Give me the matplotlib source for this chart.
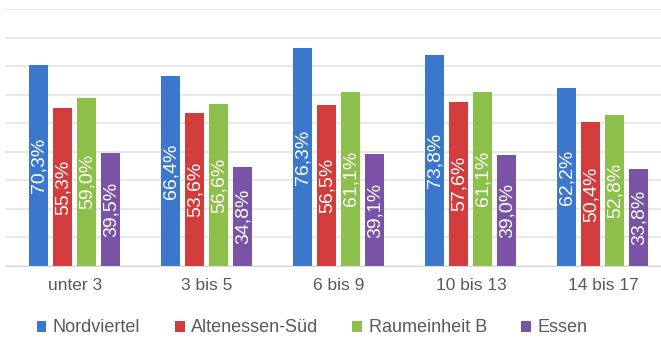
import matplotlib.pyplot as plt
import numpy as np

plt.rcParams["font.family"] = ["Liberation Sans", "DejaVu Sans"]

categories = ["unter 3", "3 bis 5", "6 bis 9", "10 bis 13", "14 bis 17"]
series_names = ["Nordviertel", "Altenessen-Süd", "Raumeinheit B", "Essen"]
nordviertel = [70.3, 66.4, 76.3, 73.8, 62.2]
altenessen_sued = [55.3, 53.6, 56.5, 57.6, 50.4]
raumeinheit_b = [59.0, 56.6, 61.1, 61.1, 52.8]
essen = [39.5, 34.8, 39.1, 39.0, 33.8]

series = [nordviertel, altenessen_sued, raumeinheit_b, essen]
colors = ["#3b78cb", "#d23c3c", "#8dc04a", "#7b53a6"]
text_grey = "#595959"

fig = plt.figure(figsize=(6.61, 3.38), dpi=100)
ax = fig.add_axes([5 / 661, 1 - 266 / 338, 656 / 661, 257 / 338])

x = np.arange(len(categories))
bar_w = 0.144
step = 0.182
offsets = (np.arange(len(series)) - 1.5) * step

for vals, name, col, off in zip(series, series_names, colors, offsets):
    bars = ax.bar(x + off, vals, width=bar_w, color=col, label=name, zorder=2)
    for b, v in zip(bars, vals):
        ax.text(b.get_x() + b.get_width() / 2, v / 2,
                f"{v:.1f}%".replace(".", ","),
                rotation=90, ha="center", va="center",
                color="white", fontsize=14, zorder=3)

ax.set_ylim(0, 90)
ax.set_xlim(-0.53, 4.44)
ax.set_yticks(np.arange(0, 91, 10))
ax.yaxis.grid(True, color="#e6e6e6", linewidth=1.3, zorder=0)
ax.set_axisbelow(True)
ax.tick_params(axis="y", left=False, labelleft=False)
ax.tick_params(axis="x", length=0, pad=9, labelsize=12.5, colors=text_grey)
ax.set_xticks(x)
ax.set_xticklabels(categories)
for s in ["top", "right", "left"]:
    ax.spines[s].set_visible(False)
ax.spines["bottom"].set_color("#dcdcdc")

fig.legend(loc="center", bbox_to_anchor=(312 / 661, 1 - 328 / 338),
           ncol=4, frameon=False, fontsize=13, handlelength=0.55,
           handleheight=0.55, handletextpad=0.35, columnspacing=1.9,
           labelcolor=text_grey)

fig.savefig("out.png", dpi=100)
